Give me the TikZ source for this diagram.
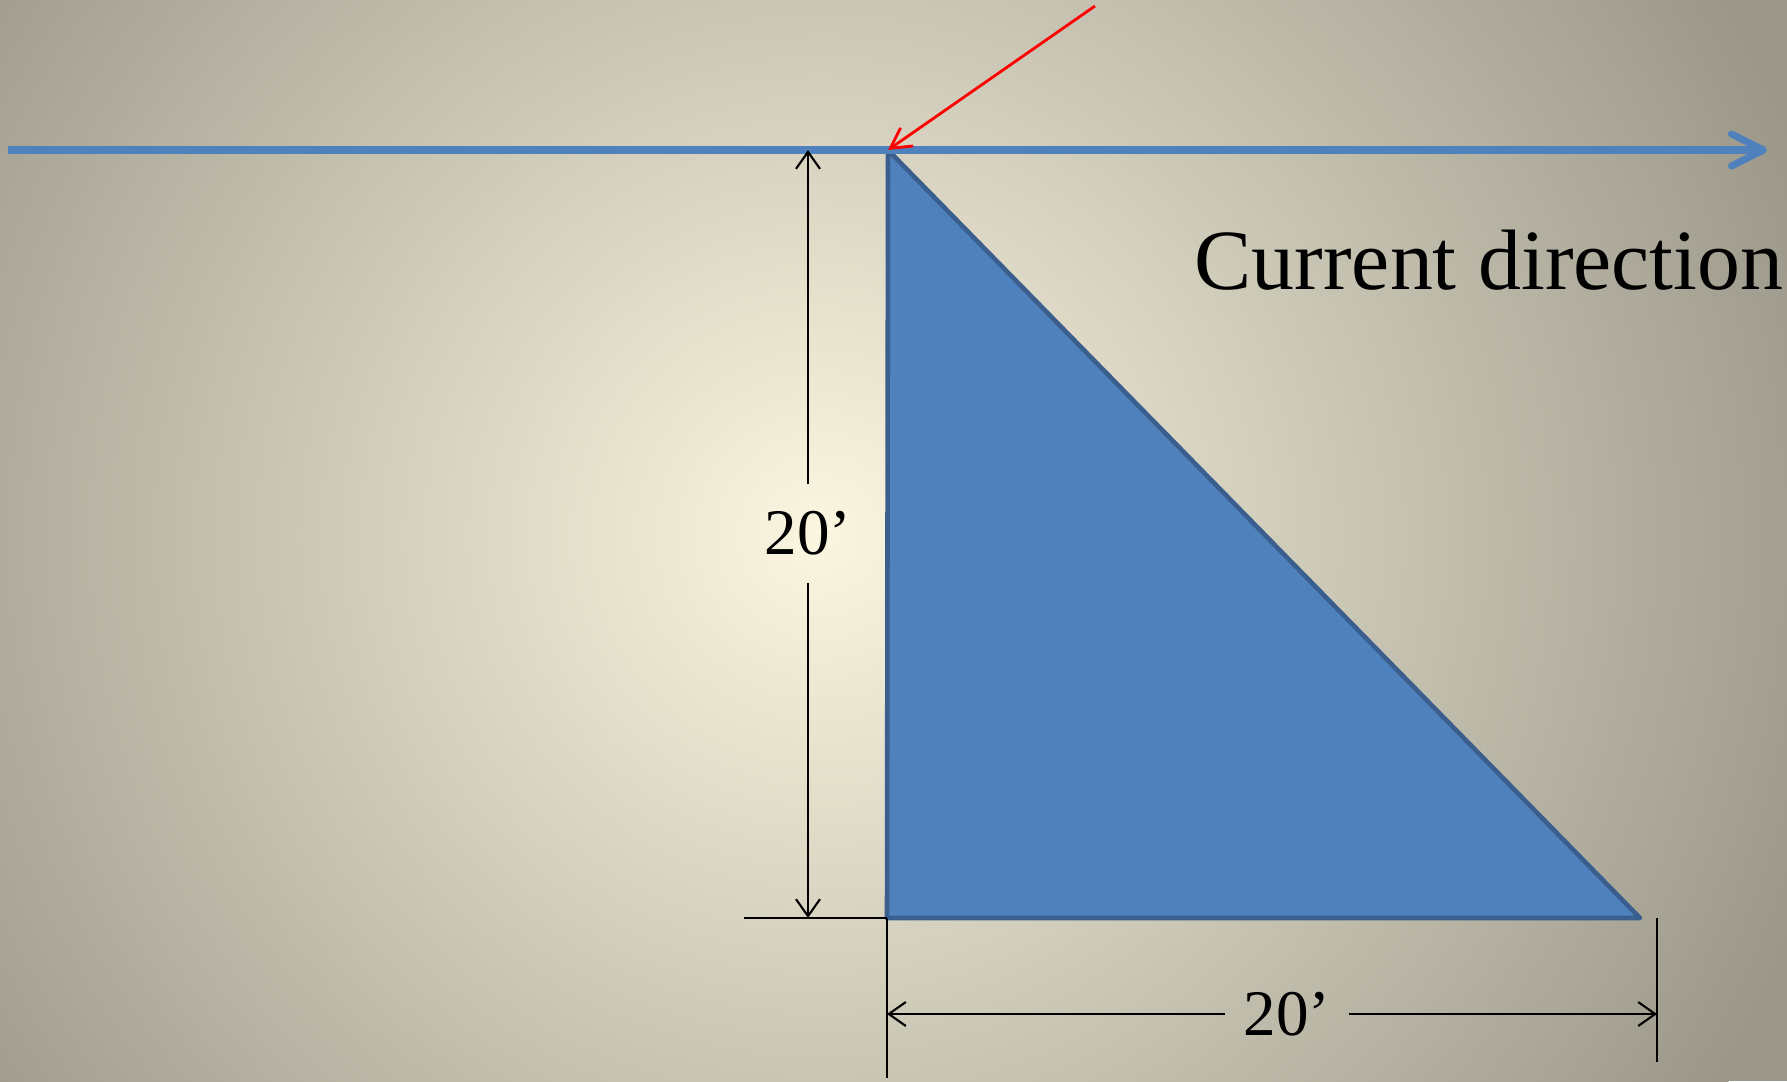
\documentclass[tikz,border=0pt]{standalone}
\usepackage{fontspec}
\setmainfont{Liberation Serif}
\usepackage{xcolor}
\usetikzlibrary{arrows.meta,positioning,calc}
\definecolor{bgCenter}{HTML}{FBF6E0}
\definecolor{bgOuter}{HTML}{9A978A}
\definecolor{waterBlue}{HTML}{4F81BD}
\definecolor{wedgeEdge}{HTML}{3A5F8E}
\definecolor{rayRed}{HTML}{FF0000}
\tikzset{
  surfline/.style = {draw=waterBlue, line width=2pt,
                     -{Straight Barb[length=0.32cm,width=0.32cm,line cap=round,line join=round]}},
  rayline/.style  = {draw=rayRed, line width=0.8pt,
                     -{Straight Barb[length=0.2cm,width=0.22cm]}},
  wedge/.style    = {fill=waterBlue, draw=wedgeEdge, line width=1.3pt, line join=round},
  dimline/.style  = {draw=black, line width=0.6pt,
                     -{Straight Barb[length=0.17cm,width=0.24cm]}},
  extline/.style  = {draw=black, line width=0.6pt},
  dimlabel/.style = {inner sep=0pt, font=\fontsize{18.5}{22}\selectfont},
}

\begin{document}
\begin{tikzpicture}[x=0.01cm,y=-0.01cm]

  % Background
  \useasboundingbox (0,0) rectangle (1787,1081);
  \fill[bgOuter] (0,0) rectangle (1787,1081);
  \begin{scope}
    \clip (0,0) rectangle (1787,1081);
    \shade[inner color=bgCenter, outer color=bgOuter] (820,535) circle (1060);
  \end{scope}

  % === Points ===
  \coordinate (surfL) at (8,150);
  \coordinate (surfR) at (1767,150);
  \coordinate (apex)  at (888,150);
  \coordinate (heel)  at (887,918);
  \coordinate (toe)   at (1640,918);
  \coordinate (rayS)  at (1095,6);

  % Wedge
  \draw[wedge] (apex) -- (heel) -- (toe) -- cycle;

  % Water surface and current
  \draw[surfline] (surfL) -- (surfR);
  \node[anchor=base west, inner sep=0pt, font=\fontsize{24.4}{28}\selectfont] (curlab) at (1194,289)
    {Current direction};

  % Incoming ray
  \draw[rayline] (rayS) -- (apex);

  % === Vertical dimension ===
  \coordinate (vTop) at (808,150);
  \coordinate (vBot) at (808,918);
  \coordinate (vExt) at (744,918);
  \node[dimlabel, minimum height=0.97cm] (hlab) at (808,533.5) {20’};
  \draw[dimline] (hlab.north) -- (vTop);
  \draw[dimline] (hlab.south) -- (vBot);
  \draw[extline] (vExt) -- (heel);

  % === Horizontal dimension ===
  \coordinate (hL) at (887,1014);
  \coordinate (hR) at (1657,1014);
  \coordinate (extLb) at (887,1078);
  \coordinate (extRt) at (1657,918);
  \coordinate (extRb) at (1657,1062);
  \node[dimlabel, minimum width=1.23cm] (wlab) at (1287,1014) {20’};
  \draw[dimline] (wlab.west) -- (hL);
  \draw[dimline] (wlab.east) -- (hR);
  \draw[extline] (heel) -- (extLb);
  \draw[extline] (extRt) -- (extRb);

\end{tikzpicture}
\end{document}
